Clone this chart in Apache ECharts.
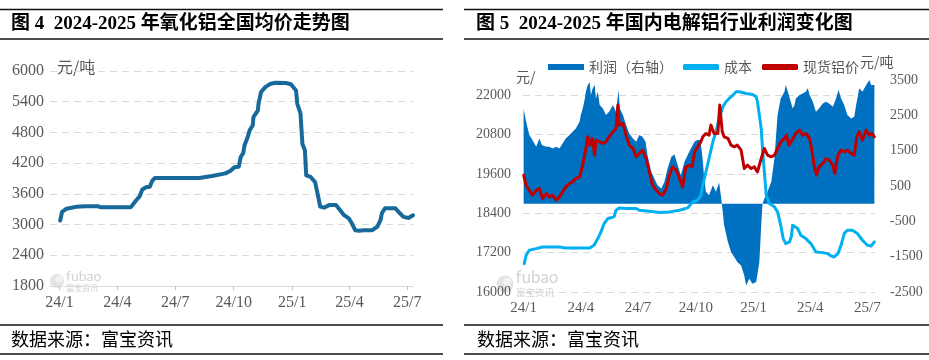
<!DOCTYPE html>
<html><head><meta charset="utf-8">
<script src="https://cdn.jsdelivr.net/npm/echarts@6/dist/echarts.min.js"></script>
<style>html,body{margin:0;padding:0;background:#fff}#c{width:929px;height:360px}</style>
</head><body><div id="c"></div>
<script>
// ---------- Data ----------
const tickDates = ['2024-01-01','2024-04-01','2024-07-01','2024-10-01','2025-01-01','2025-04-01','2025-07-01'];
const tickLabels = ['24/1','24/4','24/7','24/10','25/1','25/4','25/7'];

// Figure 4: alumina national average price (元/吨)
const aluminaDates = ['2024-01-02','2024-01-05','2024-01-12','2024-01-20','2024-01-28','2024-02-10','2024-03-01','2024-03-05','2024-04-01','2024-04-22','2024-04-26','2024-05-01','2024-05-06','2024-05-10','2024-05-16','2024-05-22','2024-05-26','2024-05-30','2024-07-01','2024-08-08','2024-08-28','2024-09-18','2024-09-26','2024-10-02','2024-10-09','2024-10-12','2024-10-16','2024-10-18','2024-10-23','2024-10-26','2024-10-31','2024-11-01','2024-11-08','2024-11-09','2024-11-13','2024-11-20','2024-11-28','2024-12-06','2024-12-22','2024-12-30','2025-01-07','2025-01-09','2025-01-14','2025-01-17','2025-01-21','2025-01-23','2025-01-30','2025-02-06','2025-02-10','2025-02-14','2025-02-20','2025-02-28','2025-03-11','2025-03-18','2025-03-23','2025-03-31','2025-04-05','2025-04-10','2025-04-16','2025-04-24','2025-05-07','2025-05-15','2025-05-20','2025-05-22','2025-05-27','2025-06-12','2025-06-17','2025-06-25','2025-07-03','2025-07-10'];
const aluminaValues = [3080,3250,3310,3330,3350,3360,3360,3340,3340,3340,3400,3480,3550,3680,3730,3740,3860,3910,3910,3910,3950,4000,4050,4120,4130,4320,4400,4550,4710,4840,4940,5100,5230,5360,5590,5690,5750,5770,5765,5740,5620,5360,5170,4580,4450,3960,3930,3830,3600,3350,3330,3380,3380,3270,3190,3120,3020,2890,2880,2890,2890,2960,3090,3220,3320,3320,3250,3150,3130,3180];

// Figure 5: electrolytic aluminium profit (right axis), cost, spot price
const profitDates = ['2024-01-01','2024-01-05','2024-01-10','2024-01-15','2024-01-21','2024-01-23','2024-01-26','2024-01-30','2024-02-06','2024-02-11','2024-02-16','2024-02-22','2024-02-27','2024-03-03','2024-03-08','2024-03-14','2024-03-19','2024-03-24','2024-03-30','2024-04-01','2024-04-04','2024-04-07','2024-04-09','2024-04-12','2024-04-15','2024-04-17','2024-04-20','2024-04-23','2024-04-25','2024-04-28','2024-05-01','2024-05-06','2024-05-11','2024-05-16','2024-05-22','2024-05-27','2024-05-31','2024-06-02','2024-06-07','2024-06-12','2024-06-17','2024-06-23','2024-06-28','2024-07-03','2024-07-08','2024-07-13','2024-07-16','2024-07-22','2024-07-27','2024-08-01','2024-08-07','2024-08-12','2024-08-17','2024-08-23','2024-08-28','2024-09-02','2024-09-07','2024-09-13','2024-09-18','2024-09-23','2024-09-29','2024-10-03','2024-10-08','2024-10-11','2024-10-14','2024-10-17','2024-10-22','2024-10-28','2024-11-02','2024-11-07','2024-11-10','2024-11-12','2024-11-15','2024-11-21','2024-11-26','2024-12-01','2024-12-06','2024-12-12','2024-12-17','2024-12-20','2024-12-25','2024-12-30','2025-01-05','2025-01-07','2025-01-10','2025-01-13','2025-01-15','2025-01-18','2025-01-23','2025-01-29','2025-02-03','2025-02-08','2025-02-13','2025-02-19','2025-02-21','2025-02-26','2025-03-04','2025-03-07','2025-03-09','2025-03-15','2025-03-20','2025-03-25','2025-03-28','2025-03-31','2025-04-05','2025-04-10','2025-04-15','2025-04-21','2025-04-26','2025-05-01','2025-05-07','2025-05-12','2025-05-16','2025-05-20','2025-05-25','2025-05-30','2025-06-05','2025-06-10','2025-06-13','2025-06-18','2025-06-23','2025-06-29','2025-07-04','2025-07-07','2025-07-10','2025-07-12'];
const profitValues = [2680,2318,1941,1799,1610,1704,1846,1657,1610,1610,1563,1610,1563,1704,1846,1941,2035,2130,2318,2507,2696,2932,3169,3358,3433,3074,3263,3358,2979,3169,2791,2696,2507,2601,2790,2601,3216,2696,2507,2224,1988,1846,1751,1941,1893,1751,1374,901,712,523,429,618,996,1327,1393,1091,807,1185,1374,1563,1751,1800,1800,1400,800,334,240,523,334,600,200,-100,-614,-1086,-1370,-1511,-1653,-1748,-2031,-2314,-2125,-2267,-2220,-2267,-1653,-614,0,145,334,618,1280,2507,2979,3169,3358,3074,2696,2790,2979,3074,3121,3169,3263,3074,2885,2601,2696,2837,2885,2837,2743,2979,3216,2979,2790,2507,2412,2460,2790,3263,3169,3358,3500,3358,3311,3358];

const priceDates = ['2024-01-01','2024-01-05','2024-01-10','2024-01-15','2024-01-21','2024-01-26','2024-01-31','2024-02-06','2024-02-11','2024-02-16','2024-02-22','2024-02-27','2024-03-03','2024-03-08','2024-03-14','2024-03-19','2024-03-24','2024-03-30','2024-04-04','2024-04-07','2024-04-09','2024-04-12','2024-04-15','2024-04-19','2024-04-23','2024-04-25','2024-05-01','2024-05-06','2024-05-11','2024-05-16','2024-05-22','2024-05-27','2024-05-30','2024-06-01','2024-06-07','2024-06-12','2024-06-17','2024-06-23','2024-06-28','2024-07-03','2024-07-08','2024-07-14','2024-07-19','2024-07-24','2024-07-30','2024-08-04','2024-08-09','2024-08-15','2024-08-20','2024-08-25','2024-08-31','2024-09-05','2024-09-10','2024-09-15','2024-09-21','2024-09-25','2024-09-29','2024-10-04','2024-10-09','2024-10-12','2024-10-17','2024-10-22','2024-10-25','2024-10-30','2024-11-05','2024-11-08','2024-11-12','2024-11-15','2024-11-21','2024-11-26','2024-12-01','2024-12-06','2024-12-12','2024-12-17','2024-12-22','2024-12-28','2025-01-02','2025-01-07','2025-01-13','2025-01-18','2025-01-23','2025-01-29','2025-02-03','2025-02-08','2025-02-13','2025-02-19','2025-02-22','2025-02-26','2025-03-03','2025-03-09','2025-03-15','2025-03-20','2025-03-25','2025-03-31','2025-04-04','2025-04-07','2025-04-11','2025-04-15','2025-04-21','2025-04-26','2025-05-01','2025-05-07','2025-05-10','2025-05-15','2025-05-20','2025-05-25','2025-05-30','2025-06-05','2025-06-10','2025-06-14','2025-06-18','2025-06-23','2025-06-29','2025-07-04','2025-07-08','2025-07-12'];
const priceValues = [19560,19255,19102,18949,19102,19153,18848,19000,18898,18949,18797,18898,19051,19204,19306,19356,19458,19509,19865,20170,20373,20729,20475,20678,20170,20627,20576,20526,20576,20729,20881,20983,21695,21085,21136,20780,20475,20373,20119,20221,20322,20068,19661,19255,19102,19000,18949,19153,19560,19814,19712,19458,19204,19814,19865,19814,20271,20424,20576,20729,20831,20780,21085,20831,20831,21695,20881,20729,20678,20475,20424,20475,20322,19763,19865,19763,19814,19661,20068,20373,20170,20119,20170,20373,20576,20678,20780,20475,20627,20831,20932,20780,20831,20678,20271,19865,19560,19814,19916,20068,20017,19865,19611,20170,20322,20271,20322,20221,20170,20729,20881,20627,20932,20780,20831,20729];

const costDates = ['2024-01-02','2024-01-05','2024-01-10','2024-01-21','2024-01-31','2024-02-27','2024-03-08','2024-03-24','2024-04-15','2024-04-22','2024-04-28','2024-05-03','2024-05-08','2024-05-14','2024-05-19','2024-05-24','2024-05-27','2024-06-01','2024-06-12','2024-06-28','2024-07-03','2024-07-19','2024-08-04','2024-08-20','2024-09-05','2024-09-18','2024-09-26','2024-10-04','2024-10-09','2024-10-12','2024-10-17','2024-10-22','2024-10-28','2024-11-02','2024-11-07','2024-11-13','2024-11-18','2024-11-23','2024-11-29','2024-12-04','2024-12-09','2024-12-20','2024-12-30','2025-01-05','2025-01-07','2025-01-10','2025-01-13','2025-01-15','2025-01-18','2025-01-21','2025-01-26','2025-02-03','2025-02-08','2025-02-13','2025-02-17','2025-02-21','2025-02-27','2025-03-02','2025-03-04','2025-03-07','2025-03-12','2025-03-17','2025-03-25','2025-04-02','2025-04-10','2025-04-21','2025-04-29','2025-05-04','2025-05-09','2025-05-15','2025-05-20','2025-05-25','2025-05-30','2025-06-07','2025-06-15','2025-06-23','2025-07-01','2025-07-07','2025-07-12'];
const costValues = [16865,17119,17271,17322,17373,17373,17343,17343,17343,17424,17627,17831,18085,18238,18260,18300,18492,18563,18543,18543,18492,18461,18421,18441,18492,18563,18746,18797,18950,19255,19661,20068,20576,20881,21288,21644,21797,21898,22000,22102,22102,22051,22021,21949,21797,21390,20983,20373,19661,18950,18695,18594,18441,18034,17627,17475,17526,17700,18034,18055,17933,17729,17627,17475,17221,17200,17170,17099,17068,17170,17424,17780,17882,17882,17780,17577,17424,17403,17526];

const profitAxisTicks = [-2500,-1500,-500,500,1500,2500,3500];
const priceAxisTicks = [16000,17200,18400,19600,20800,22000];

// ---------- Helpers ----------
function ts(s){ const p = s.split('-').map(Number); return Date.UTC(p[0], p[1]-1, p[2]); }
const tickTs = tickDates.map(ts);
function fmtTick(v){ const i = tickTs.indexOf(v); return i >= 0 ? tickLabels[i] : ''; }
function plain(v){ return String(v); }
function pairs(ds, vs){ return ds.map((d,i)=>[ts(d), vs[i]]); }

const serif = '"Liberation Serif", "Noto Sans CJK SC", serif';
const cjk = '"Noto Sans CJK SC", sans-serif';
const grey = '#595959';
const gridGrey = '#d9d9d9';

const chart = echarts.init(document.getElementById('c'), null, {renderer:'canvas'});

function hline(x1,x2,y){ return {type:'line', silent:true, shape:{x1:x1,y1:y,x2:x2,y2:y}, style:{stroke:'#111', lineWidth:1.5}}; }
function txt(x,y,t,font,fill,align){ return {type:'text', silent:true, x:x, y:y, style:{text:t, font:font, fill:fill, align:align||'left', verticalAlign:'middle'}}; }
function logo(x,y,s){
  return [
    {type:'circle', silent:true, shape:{cx:x, cy:y, r:7*s}, style:{fill:'#e3e3e3'}},
    {type:'circle', silent:true, shape:{cx:x+2*s, cy:y-2*s, r:3.5*s}, style:{fill:'#f3f3f3'}},
    txt(x+9*s, y-5*s, 'fubao', (14*s)+'px Lato, sans-serif', '#d2d2d2'),
    txt(x+9*s, y+7*s, '富宝资讯', (8*s)+'px ' + cjk, '#d2d2d2')
  ];
}

const option = {
  animation:false,
  backgroundColor:'#fff',
  graphic: [
    hline(0,443,9.5), hline(0,443,39), hline(0,443,325), hline(0,443,354),
    hline(464,929,9.5), hline(464,929,39), hline(464,929,325), hline(464,929,354),
    txt(11,24,'图 4  2024-2025 年氧化铝全国均价走势图','bold 19px ' + serif,'#000'),
    txt(476,24,'图 5  2024-2025 年国内电解铝行业利润变化图','bold 19px ' + serif,'#000'),
    txt(11,339.5,'数据来源：富宝资讯','18px ' + cjk,'#000'),
    txt(477,339.5,'数据来源：富宝资讯','18px ' + cjk,'#000'),
    txt(57,67,'元/吨','16px ' + cjk, grey),
    txt(516,77,'元/','14px ' + cjk, grey),
    txt(860,62,'元/吨','14px ' + cjk, grey)
  ].concat(logo(57,281,1), logo(505,284,1.2)),
  legend: {
    left: 543, top: 55,
    itemWidth: 36, itemHeight: 6, itemGap: 10,
    textStyle: {fontSize:14, color:grey, fontFamily:cjk},
    data: [{name:'利润（右轴）', icon:'rect'}, {name:'成本', icon:'roundRect'}, {name:'现货铝价', icon:'roundRect'}]
  },
  grid: [
    {left:50, top:71, width:363, height:215},
    {left:523, top:80, width:352, height:212}
  ],
  xAxis: [
    {type:'value', gridIndex:0, min: ts('2023-12-17'), max: ts('2025-07-10'), scale:true,
     axisLine:{show:true, lineStyle:{color:gridGrey, width:1}},
     axisTick:{show:true, length:4, lineStyle:{color:'#bfbfbf'}, customValues: tickTs},
     axisLabel:{customValues: tickTs, formatter: fmtTick, color:grey, fontSize:16, fontFamily:serif, margin:9},
     splitLine:{show:false}},
    {type:'value', gridIndex:1, min: ts('2023-12-31'), max: ts('2025-07-13'), scale:true,
     axisLine:{show:false}, axisTick:{show:false, customValues: tickTs},
     axisLabel:{customValues: tickTs, formatter: fmtTick, color:grey, fontSize:15, fontFamily:serif, margin:9},
     splitLine:{show:false}}
  ],
  yAxis: [
    {type:'value', gridIndex:0, min:1800, max:6000, interval:600,
     axisLine:{show:false}, axisTick:{show:false},
     axisLabel:{formatter: plain, color:grey, fontSize:16, fontFamily:serif, margin:6},
     splitLine:{show:true, lineStyle:{color:gridGrey, type:[7,5], width:1}}},
    {type:'value', gridIndex:1, min:16000, max:22460,
     axisLine:{show:false}, axisTick:{show:false, customValues: priceAxisTicks},
     axisLabel:{customValues: priceAxisTicks, formatter: plain, color:grey, fontSize:14, fontFamily:serif, margin:12},
     splitLine:{show:true, lineStyle:{color:gridGrey, type:[7,5], width:1}}},
    {type:'value', gridIndex:1, position:'right', min:-2500, max:3500,
     axisLine:{show:false}, axisTick:{show:false, customValues: profitAxisTicks},
     axisLabel:{customValues: profitAxisTicks, formatter: plain, color:grey, fontSize:14, fontFamily:serif, margin:15},
     splitLine:{show:false}}
  ],
  series: [
    {name:'氧化铝均价', type:'line', xAxisIndex:0, yAxisIndex:0, data: pairs(aluminaDates, aluminaValues),
     showSymbol:false, symbol:'none', color:'#17699B',
     lineStyle:{width:4, color:'#17699B', cap:'round', join:'round'}},
    {name:'利润（右轴）', type:'line', xAxisIndex:1, yAxisIndex:2, data: pairs(profitDates, profitValues),
     showSymbol:false, symbol:'none', color:'#0070C0',
     lineStyle:{width:0, color:'#0070C0'},
     areaStyle:{color:'#0070C0', opacity:1, origin:'auto'}},
    {name:'成本', type:'line', xAxisIndex:1, yAxisIndex:1, data: pairs(costDates, costValues),
     showSymbol:false, symbol:'none', color:'#00B0F0',
     lineStyle:{width:3, color:'#00B0F0', cap:'round', join:'round'}},
    {name:'现货铝价', type:'line', xAxisIndex:1, yAxisIndex:1, data: pairs(priceDates, priceValues),
     showSymbol:false, symbol:'none', color:'#C00000',
     lineStyle:{width:3, color:'#C00000', cap:'round', join:'round'}}
  ]
};
chart.setOption(option);
</script></body></html>
